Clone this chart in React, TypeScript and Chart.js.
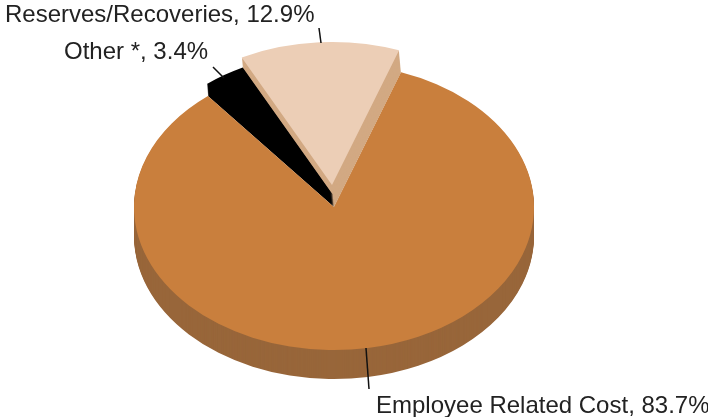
import React, { useEffect, useRef } from "react";
import { Chart, registerables } from "chart.js";

Chart.register(...registerables);

const categories = ["Employee Related Cost", "Other *", "Reserves/Recoveries"];
const shares = [83.7, 3.4, 12.9];
const topColors = ["#c97f3d", "#000000", "#ecceb6"];
const wallColors = ["#98663a", "#000000", "#d2a983"];

const CX = 334;
const CY = 207;
const SQUASH = 0.715;
const DEPTH = 29;
const LIFT = [0, 12, 22];
const SHIFT = [0, -1, -2];

const pie3d = {
  id: "pie3d",
  beforeDatasetsDraw(chart: any) {
    const ctx = chart.ctx;
    const arcs = chart.getDatasetMeta(0).data;
    const paint = (i: number, lift: number, color: string) => {
      const el = arcs[i];
      const saved = el.options;
      const share = LIFT[i] > 0 ? lift / LIFT[i] : 0;
      el.options = { ...saved, backgroundColor: color };
      ctx.save();
      ctx.translate(CX + SHIFT[i] * share, CY - lift);
      ctx.scale(1, SQUASH);
      ctx.translate(-el.x, -el.y);
      el.draw(ctx);
      ctx.restore();
      el.options = saved;
    };
    for (let d = DEPTH; d > 0; d--) paint(0, -d, wallColors[0]);
    paint(2, 0, wallColors[2]);
    paint(1, 0, wallColors[1]);
    paint(0, 0, topColors[0]);
    for (let d = 1; d < LIFT[2]; d++) paint(2, d, wallColors[2]);
    paint(2, LIFT[2], topColors[2]);
    for (let d = 1; d < LIFT[1]; d++) paint(1, d, wallColors[1]);
    paint(1, LIFT[1], topColors[1]);
    return false;
  },
  afterDraw(chart: any) {
    const ctx = chart.ctx;
    ctx.save();
    ctx.strokeStyle = "#111111";
    ctx.lineWidth = 1.5;
    const leaders = [
      [366, 348, 369, 389],
      [213, 67, 224, 78],
      [319, 28, 321, 43],
    ];
    leaders.forEach(([a, b, c, d]) => {
      ctx.beginPath();
      ctx.moveTo(a, b);
      ctx.lineTo(c, d);
      ctx.stroke();
    });
    ctx.fillStyle = "#222222";
    ctx.font = '24px "Liberation Sans"';
    ctx.textAlign = "left";
    ctx.textBaseline = "alphabetic";
    const spots = [
      [376, 413],
      [64, 59],
      [5, 22],
    ];
    categories.forEach((name, i) => {
      ctx.fillText(`${name}, ${shares[i]}%`, spots[i][0], spots[i][1]);
    });
    ctx.restore();
  },
};

export default function App() {
  const ref = useRef<HTMLCanvasElement>(null);
  useEffect(() => {
    const chart = new Chart(ref.current as HTMLCanvasElement, {
      type: "pie",
      data: {
        labels: categories,
        datasets: [
          {
            data: shares,
            backgroundColor: topColors,
            borderWidth: 0,
            radius: 200,
          },
        ],
      },
      options: {
        responsive: false,
        animation: false,
        events: [],
        rotation: 19.6,
        layout: { padding: 0 },
        plugins: { legend: { display: false }, tooltip: { enabled: false } },
      },
      plugins: [pie3d],
    } as any);
    return () => chart.destroy();
  }, []);
  return (
    <div style={{ position: "fixed", left: 0, top: 0, width: 708, height: 417, background: "#fff" }}>
      <canvas ref={ref} width={708} height={417} style={{ display: "block" }} />
    </div>
  );
}
